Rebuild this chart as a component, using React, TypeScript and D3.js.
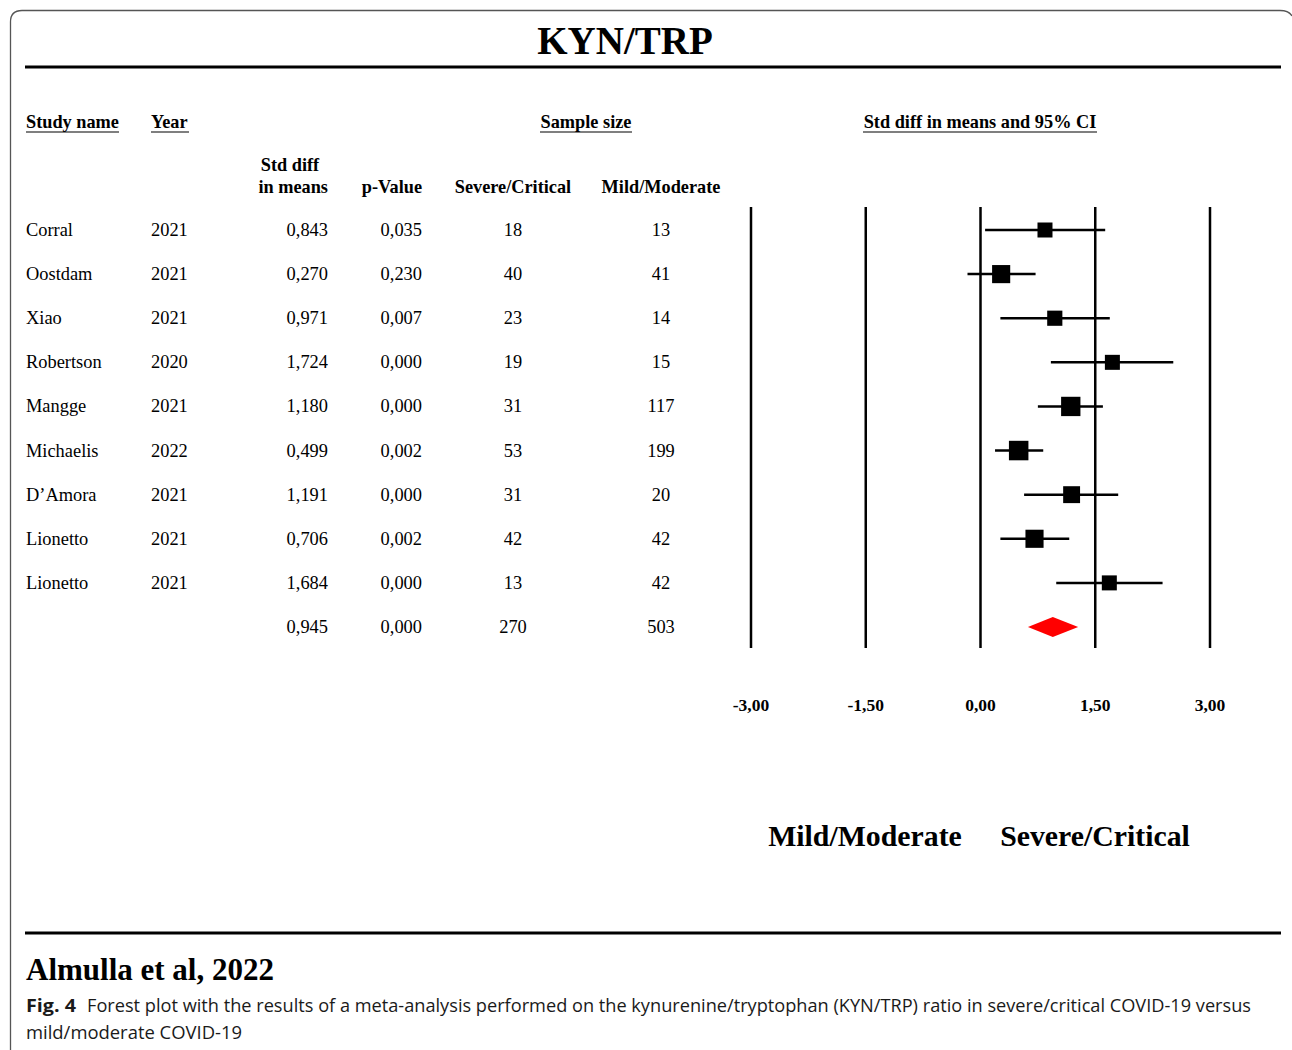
import React from "react";
import * as d3 from "d3";

const studies = ["Corral", "Oostdam", "Xiao", "Robertson", "Mangge", "Michaelis", "D\u2019Amora", "Lionetto", "Lionetto"];
const years = ["2021", "2021", "2021", "2020", "2021", "2022", "2021", "2021", "2021"];
const stdDiff = [0.843, 0.27, 0.971, 1.724, 1.18, 0.499, 1.191, 0.706, 1.684];
const stdDiffLabels = ["0,843", "0,270", "0,971", "1,724", "1,180", "0,499", "1,191", "0,706", "1,684"];
const pValues = ["0,035", "0,230", "0,007", "0,000", "0,000", "0,002", "0,000", "0,002", "0,000"];
const severeN = ["18", "40", "23", "19", "31", "53", "31", "42", "13"];
const mildN = ["13", "41", "14", "15", "117", "199", "20", "42", "42"];
const ciLower = [0.06, -0.17, 0.26, 0.92, 0.75, 0.19, 0.57, 0.26, 0.99];
const ciUpper = [1.63, 0.72, 1.69, 2.52, 1.6, 0.82, 1.8, 1.16, 2.38];
const weights = [8.4, 12.0, 8.6, 8.4, 13.4, 13.6, 10.6, 12.0, 8.4];

const summary = { label: "0,945", p: "0,000", severe: "270", mild: "503", est: 0.945, lo: 0.62, hi: 1.277 };
const tickValues = [-3, -1.5, 0, 1.5, 3];
const tickLabels = ["-3,00", "-1,50", "0,00", "1,50", "3,00"];

const serif = "'Liberation Serif', 'Times New Roman', serif";
const sans = "'Open Sans', 'Noto Sans', sans-serif";

export default function App() {
  const x = d3.scaleLinear().domain([-3, 3]).range([751, 1210]);
  const y = d3.scalePoint<number>().domain(d3.range(10)).range([230, 627]);
  const size = d3.scaleLinear().domain([d3.min(weights)!, d3.max(weights)!]).range([15, 19.5]);
  const ys = summary;
  const sy = y(9)!;

  const rowFont = { fontFamily: serif, fontSize: 18.4, fill: "#000" } as const;
  const hdrFont = { fontFamily: serif, fontSize: 18.3, fontWeight: "bold", fill: "#000" } as const;

  return (
    <svg width={1292} height={1050} style={{ position: "absolute", left: 0, top: 0, background: "#fff" }}>
      <rect x={0} y={0} width={1292} height={1050} fill="#fff" />
      {/* frame */}
      <path d="M10.5,1060 L10.5,22 Q10.5,10.5 22,10.5 L1280,10.5 Q1289,10.5 1292,16" fill="none" stroke="#555" strokeWidth={1.3} />

      {/* title */}
      <text x={625} y={54} textAnchor="middle" style={{ fontFamily: serif, fontSize: 39, fontWeight: "bold" }}>KYN/TRP</text>
      <line x1={25} x2={1281} y1={67} y2={67} stroke="#000" strokeWidth={3} />

      {/* headers */}
      <text x={26} y={128} style={hdrFont}>Study name</text>
      <line x1={26} x2={119} y1={132} y2={132} stroke="#000" strokeWidth={1.2} />
      <text x={151} y={128} style={hdrFont}>Year</text>
      <line x1={151} x2={189} y1={132} y2={132} stroke="#000" strokeWidth={1.2} />
      <text x={586} y={128} textAnchor="middle" style={hdrFont}>Sample size</text>
      <line x1={540} x2={632} y1={132} y2={132} stroke="#000" strokeWidth={1.2} />
      <text x={980} y={128} textAnchor="middle" style={hdrFont}>Std diff in means and 95% CI</text>
      <line x1={863} x2={1097} y1={132} y2={132} stroke="#000" strokeWidth={1.2} />

      <text x={290} y={171} textAnchor="middle" style={hdrFont}>Std diff</text>
      <text x={328} y={193} textAnchor="end" style={hdrFont}>in means</text>
      <text x={422} y={193} textAnchor="end" style={hdrFont}>p-Value</text>
      <text x={513} y={193} textAnchor="middle" style={hdrFont}>Severe/Critical</text>
      <text x={661} y={193} textAnchor="middle" style={hdrFont}>Mild/Moderate</text>

      {/* rows */}
      {studies.map((s, i) => {
        const yy = y(i)! + 6;
        return (
          <g key={i}>
            <text x={26} y={yy} style={rowFont}>{s}</text>
            <text x={151} y={yy} style={rowFont}>{years[i]}</text>
            <text x={328} y={yy} textAnchor="end" style={rowFont}>{stdDiffLabels[i]}</text>
            <text x={422} y={yy} textAnchor="end" style={rowFont}>{pValues[i]}</text>
            <text x={513} y={yy} textAnchor="middle" style={rowFont}>{severeN[i]}</text>
            <text x={661} y={yy} textAnchor="middle" style={rowFont}>{mildN[i]}</text>
          </g>
        );
      })}
      <g>
        <text x={328} y={sy + 6} textAnchor="end" style={rowFont}>{ys.label}</text>
        <text x={422} y={sy + 6} textAnchor="end" style={rowFont}>{ys.p}</text>
        <text x={513} y={sy + 6} textAnchor="middle" style={rowFont}>{ys.severe}</text>
        <text x={661} y={sy + 6} textAnchor="middle" style={rowFont}>{ys.mild}</text>
      </g>

      {/* reference lines */}
      {tickValues.map((t, i) => (
        <g key={i}>
          <line x1={x(t)} x2={x(t)} y1={207} y2={648} stroke="#000" strokeWidth={2.5} />
          <text x={x(t)} y={711} textAnchor="middle" style={{ fontFamily: serif, fontSize: 17.5, fontWeight: "bold" }}>{tickLabels[i]}</text>
        </g>
      ))}

      {/* study markers */}
      {studies.map((_, i) => {
        const cy = y(i)!;
        const s = size(weights[i]);
        return (
          <g key={i}>
            <line x1={x(ciLower[i])} x2={x(ciUpper[i])} y1={cy} y2={cy} stroke="#000" strokeWidth={2.5} />
            <rect x={x(stdDiff[i]) - s / 2} y={cy - s / 2} width={s} height={s} fill="#000" />
          </g>
        );
      })}

      {/* summary diamond */}
      <path
        d={`M${x(ys.lo)},${sy} L${x(ys.est)},${sy - 10} L${x(ys.hi)},${sy} L${x(ys.est)},${sy + 10} Z`}
        fill="#ff0000"
      />

      {/* favours labels */}
      <text x={865} y={846} textAnchor="middle" style={{ fontFamily: serif, fontSize: 29.8, fontWeight: "bold" }}>Mild/Moderate</text>
      <text x={1095} y={846} textAnchor="middle" style={{ fontFamily: serif, fontSize: 29.8, fontWeight: "bold" }}>Severe/Critical</text>

      {/* bottom */}
      <line x1={25} x2={1281} y1={933} y2={933} stroke="#000" strokeWidth={3} />
      <text x={26} y={980} style={{ fontFamily: serif, fontSize: 31, fontWeight: "bold" }}>Almulla et al, 2022</text>

      <text x={26} y={1012} textLength={50} lengthAdjust="spacingAndGlyphs" style={{ fontFamily: sans, fontSize: 18, fontWeight: "bold", fill: "#1a1a1a" }}>Fig. 4</text>
      <text x={87} y={1012} textLength={1164} lengthAdjust="spacingAndGlyphs" style={{ fontFamily: sans, fontSize: 18, fill: "#1a1a1a" }}>
        Forest plot with the results of a meta-analysis performed on the kynurenine/tryptophan (KYN/TRP) ratio in severe/critical COVID-19 versus
      </text>
      <text x={26} y={1039} textLength={216} lengthAdjust="spacingAndGlyphs" style={{ fontFamily: sans, fontSize: 18, fill: "#1a1a1a" }}>
        mild/moderate COVID-19
      </text>
    </svg>
  );
}
